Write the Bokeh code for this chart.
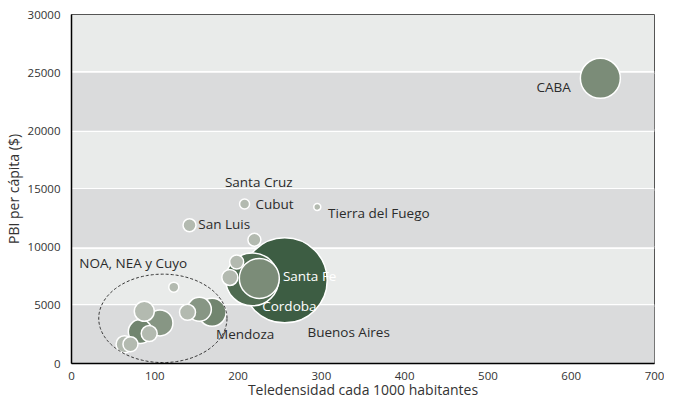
import numpy as np
from bokeh.plotting import figure
from bokeh.models import ColumnDataSource, BoxAnnotation, Range1d, FixedTicker
from bokeh.core.properties import value
from bokeh.embed import file_html
from bokeh.resources import INLINE

# ---- data ----
teledensidad = [635, 256, 217, 225.5, 219.6, 198.3, 190.1, 207.8, 295.1, 141.7,
                122.8, 87.4, 106.2, 82.6, 93.3, 63.7, 70.8, 139.3, 153.5, 168.8]
pbi_per_capita = [24516, 7147, 7230, 7313, 10637, 8726, 7396, 13712, 13463, 11884,
                  6565, 4488, 3490, 2742, 2576, 1662, 1662, 4405, 4654, 4405]
tamano = [40, 85, 53, 40, 13, 14, 16, 10, 7, 13,
          10, 20, 26, 24, 16, 17, 15, 16, 24, 28]
grupo = ["medio", "oscuro", "oscuro2", "medio", "claro", "claro", "claro", "claro", "claro", "claro",
         "claro", "claro", "medio2", "medio3", "claro", "claro", "claro", "claro", "medio2", "medio3"]

colores = {"oscuro": "#3d5d43", "oscuro2": "#4f6b51", "medio": "#7b8c78",
           "medio2": "#879684", "medio3": "#71856f", "claro": "#b3bab0"}

etiquetas = ["Santa Cruz", "Cubut", "Tierra del Fuego", "San Luis", "NOA, NEA y Cuyo",
             "Santa Fe", "Cordoba", "Mendoza", "Buenos Aires", "CABA"]
etiq_x = [184.2, 220.8, 308.1, 152.3, 9.4, 253.8, 229.0, 173.5, 283.3, 558.4]
etiq_y = [15624, 13712, 12964, 11967, 8643, 7563, 4903, 2576, 2742, 23768]
etiq_color = ["#2b2b2b", "#2b2b2b", "#2b2b2b", "#2b2b2b", "#2b2b2b",
              "#ffffff", "#ffffff", "#2b2b2b", "#2b2b2b", "#2b2b2b"]

# dashed grouping ellipse (centre and semi-axes, data units)
elipse_x, elipse_y, elipse_ax, elipse_ay = 109.7, 3880, 77, 3800

x_ticks = [0, 100, 200, 300, 400, 500, 600, 700]
y_ticks = [0, 5000, 10000, 15000, 20000, 25000, 30000]
x_titulo = "Teledensidad cada 1000 habitantes"
y_titulo = "PBI per cápita ($)"

# ---- figure ----
p = figure(width=664, height=401, output_backend="svg", toolbar_location=None,
           x_range=Range1d(0, 700), y_range=Range1d(0, 30000),
           min_border_left=68, min_border_right=10, min_border_top=14, min_border_bottom=34)

p.background_fill_color = "#e9ebea"
p.border_fill_color = "white"
p.outline_line_color = "#555555"
p.outline_line_width = 1

for lo in (0, 10000, 20000):
    p.add_layout(BoxAnnotation(bottom=lo, top=lo + 5000, fill_color="#dadbdc",
                               fill_alpha=1, line_color=None, level="underlay"))

p.xgrid.grid_line_color = None
p.ygrid.grid_line_color = "white"
p.ygrid.grid_line_width = 3
p.ygrid.level = "underlay"
p.ygrid.ticker = FixedTicker(ticks=y_ticks)

for ax in (p.xaxis[0], p.yaxis[0]):
    ax.axis_line_color = "black"
    ax.axis_line_width = 1.5
    ax.major_tick_line_color = None
    ax.minor_tick_line_color = None
    ax.major_label_text_font = "Open Sans"
    ax.major_label_text_font_size = "11.5px"
    ax.major_label_text_color = "#333333"
    ax.axis_label_text_font = "Open Sans"
    ax.axis_label_text_font_size = "14px"
    ax.axis_label_text_font_style = "normal"
    ax.axis_label_text_color = "#333333"

p.xaxis.ticker = FixedTicker(ticks=x_ticks)
p.yaxis.ticker = FixedTicker(ticks=y_ticks)
p.xaxis.axis_label = x_titulo
p.yaxis.axis_label = y_titulo
p.xaxis.major_label_standoff = 2
p.xaxis.axis_label_standoff = -3
p.yaxis.major_label_standoff = 5
p.yaxis.axis_label_standoff = 2

# bubbles, larger first
orden = sorted(range(len(tamano)), key=lambda i: -tamano[i])
src = ColumnDataSource(dict(
    x=[teledensidad[i] for i in orden],
    y=[pbi_per_capita[i] for i in orden],
    s=[tamano[i] for i in orden],
    c=[colores[grupo[i]] for i in orden],
))
p.scatter("x", "y", size="s", fill_color="c", fill_alpha=1,
          line_color="white", line_width=1.5, source=src)

t = np.linspace(0, 2 * np.pi, 200)
p.line(elipse_x + elipse_ax * np.cos(t), elipse_y + elipse_ay * np.sin(t),
       line_color="#333333", line_width=1, line_dash="3 2")

lsrc = ColumnDataSource(dict(x=etiq_x, y=etiq_y, t=etiquetas, c=etiq_color))
p.text("x", "y", text="t", text_color="c", source=lsrc,
       text_font=value("Open Sans"), text_font_size="13.5px",
       text_baseline="middle", text_align="left")

open("out.html", "w").write(file_html(p, INLINE))
